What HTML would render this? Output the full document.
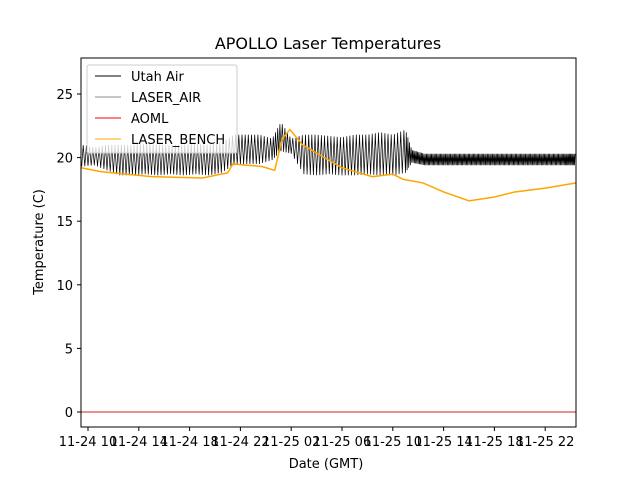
<!DOCTYPE html>
<html><head><meta charset="utf-8"><style>
body{margin:0;background:#fff}
svg text{font-family:"DejaVu Sans","Liberation Sans",sans-serif}
</style></head><body>
<svg id="c" width="640" height="480">
<rect width="640" height="480" fill="#fff"/>
<text x="328" y="49" text-anchor="middle" font-size="16">APOLLO Laser Temperatures</text>
<g id="plot"></g>
<rect x="81" y="58" width="495" height="369" fill="none" stroke="#000" stroke-width="1"/>
<g id="axes"></g>
<text x="326" y="468" text-anchor="middle" font-size="13">Date (GMT)</text>
<text transform="translate(43,242) rotate(-90)" text-anchor="middle" font-size="13">Temperature (C)</text>
<g>
<rect x="87" y="65" width="150" height="88" fill="#fff" fill-opacity="0.8" stroke="#ccc" rx="2"/>
<line x1="95" y1="76" x2="121" y2="76" stroke="#000" stroke-width="1"/>
<text x="131" y="81" font-size="13">Utah Air</text>
<line x1="95" y1="97" x2="121" y2="97" stroke="#666" stroke-width="0.7"/>
<text x="131" y="102" font-size="13">LASER_AIR</text>
<line x1="95" y1="118" x2="121" y2="118" stroke="red" stroke-width="1"/>
<text x="131" y="123" font-size="13">AOML</text>
<line x1="95" y1="139" x2="121" y2="139" stroke="orange" stroke-width="1"/>
<text x="131" y="144" font-size="13">LASER_BENCH</text>
</g>
</svg>
<script>
const xTickHours=[10,14,18,22,26,30,34,38,42,46];
const xTickLabels=["11-24 10","11-24 14","11-24 18","11-24 22","11-25 02","11-25 06","11-25 10","11-25 14","11-25 18","11-25 22"];
const yTicks=[0,5,10,15,20,25];
const airHours=[9.5,10.5,11.5,12.5,13.5,14.5,15.5,16.5,17.5,18.5,19.5,20.5,21.5,22.5,23.5,24.5,25.2,26,27,28,29,30,31,32,33,34,35,35.5,36.5,37.5,38.5,39.5,40.5,41.5,42.5,43.5,44.5,45.5,46.5,47.5,48.4];
const airLow=[19.3,19.4,19.0,18.6,18.6,18.7,18.6,18.7,18.6,18.7,18.6,18.8,19.4,19.5,19.5,19.8,20.5,20.3,18.7,18.6,18.7,18.6,18.6,18.7,18.6,18.6,18.8,19.6,19.4,19.4,19.4,19.4,19.4,19.4,19.4,19.4,19.4,19.4,19.4,19.4,19.4];
const airHigh=[21.0,20.8,21.0,21.0,21.0,21.1,21.0,21.0,21.0,21.1,21.0,21.2,21.8,21.8,21.8,21.5,22.8,21.5,21.8,21.8,21.7,21.6,21.8,21.8,22.0,21.8,22.2,20.6,20.3,20.3,20.3,20.3,20.3,20.3,20.3,20.3,20.3,20.3,20.3,20.3,20.3];
const benchHours=[9.45,11,15,19,21,21.4,23.7,24.7,25.3,25.9,26.9,30,32.4,34,34.8,36.4,38,40,42,43.6,46,48.4];
const benchTemp=[19.2,18.9,18.5,18.4,18.8,19.5,19.3,19.0,21.5,22.2,21.0,19.2,18.5,18.7,18.3,18.0,17.3,16.6,16.9,17.3,17.6,18.0];
const aomlHours=[9.45,48.4];
const aomlTemp=[0,0];
const NS="http://www.w3.org/2000/svg";
const X=h=>88+(h-10)*12.7;
const Y=t=>412-t*12.72;
const plot=document.getElementById('plot'),axes=document.getElementById('axes');
function mk(tag,attrs,parent){const e=document.createElementNS(NS,tag);for(const k in attrs)e.setAttribute(k,attrs[k]);parent.appendChild(e);return e;}
let pts=[];
for(let i=0;i<airHours.length-1;i++){
  const n=airHours[i]>35.3?20:8;
  for(let j=0;j<n;j++){
    const h=airHours[i]+(airHours[i+1]-airHours[i])*j/n;
    const lo=airLow[i]+(airLow[i+1]-airLow[i])*j/n, hi=airHigh[i]+(airHigh[i+1]-airHigh[i])*j/n;
    pts.push(X(h).toFixed(1)+','+Y(j%2?hi:lo).toFixed(1));
  }
}
const air=mk('polyline',{points:pts.join(' '),fill:'none',stroke:'#000','stroke-width':0.7},plot);


const bench=mk('polyline',{points:benchHours.map((h,i)=>X(h)+','+Y(benchTemp[i])).join(' '),fill:'none',stroke:'orange','stroke-width':1.5},plot);


const aoml=mk('polyline',{points:aomlHours.map((h,i)=>X(h)+','+Y(aomlTemp[i])).join(' '),fill:'none',stroke:'#d62020','stroke-width':1},plot);


xTickHours.forEach((h,i)=>{
  mk('line',{x1:X(h),x2:X(h),y1:427,y2:431,stroke:'#000'},axes);
  const t=mk('text',{x:X(h),y:446,'text-anchor':'middle','font-size':13},axes);
  t.textContent=xTickLabels[i];
  
  
});
yTicks.forEach(v=>{
  mk('line',{x1:77,x2:81,y1:Y(v),y2:Y(v),stroke:'#000'},axes);
  const t=mk('text',{x:73,y:Y(v)+5,'text-anchor':'end','font-size':13},axes);
  t.textContent=v;
  
  
});
</script>
</body></html>
